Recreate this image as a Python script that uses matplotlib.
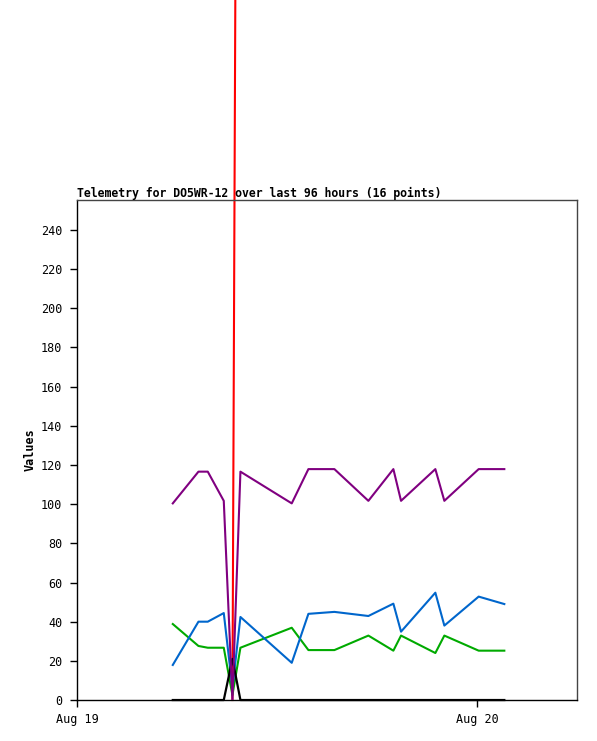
import matplotlib
matplotlib.use('Agg')
import matplotlib.pyplot as plt
import matplotlib.dates as mdates
import numpy as np
import datetime

nan = float('nan')

# sample times, hours after Aug 19 00:00
hours = [5.72, 7.26, 7.82, 8.78, 9.30, 9.78, 12.86, 13.86,
         15.42, 17.46, 18.96, 19.42, 21.48, 22.02, 24.08, 25.62]

red_vals = [nan, nan, nan, nan, 0, 990, 995, 998,
            1001, 1004, 1006, 1008, 1010, 1012, 1015, 1018]
green_vals = [38.8, 27.6, 26.7, 26.7, 2.5, 26.7, 36.9, 25.5,
              25.5, 32.9, 25.2, 32.9, 24.0, 32.9, 25.2, 25.2]
blue_vals = [17.9, 40.0, 40.0, 44.4, 6.0, 42.4, 19.0, 44.0,
             45.0, 42.9, 49.2, 34.9, 54.8, 38.0, 52.8, 49.0]
black_vals = [0, 0, 0, 0, 21, 0, 0, 0,
              0, 0, 0, 0, 0, 0, 0, 0]
purple_vals = [100.4, 116.6, 116.6, 101.7, 0, 116.6, 100.4, 117.9,
               117.9, 101.7, 117.9, 101.7, 117.9, 101.7, 117.9, 117.9]

start = datetime.datetime(2024, 8, 19)
times = [start + datetime.timedelta(hours=h) for h in hours]

fig = plt.figure(figsize=(5.97, 7.41), dpi=100)
ax = fig.add_axes([0.1298, 0.0553, 0.8372, 0.6748])

mono = 'DejaVu Sans Mono'

ax.plot(times, red_vals, color='#ff0000', lw=1.5, clip_on=False, zorder=2)
ax.plot(times, green_vals, color='#00aa00', lw=1.5, zorder=3)
ax.plot(times, blue_vals, color='#0066cc', lw=1.5, zorder=4)
ax.plot(times, black_vals, color='#000000', lw=1.6, clip_on=False, zorder=5)
ax.plot(times, purple_vals, color='#800080', lw=1.5, zorder=6)

ax.set_xlim(start, start + datetime.timedelta(hours=30))
ax.set_ylim(0, 255.3)

ax.xaxis.set_major_locator(mdates.DayLocator())
ax.xaxis.set_major_formatter(mdates.DateFormatter('%b %d'))
ax.set_yticks(np.arange(0, 241, 20))

for side in ['left', 'bottom']:
    ax.spines[side].set_color('#000000')
    ax.spines[side].set_linewidth(1.0)
for side in ['top', 'right']:
    ax.spines[side].set_color('#444444')
    ax.spines[side].set_linewidth(1.0)

ax.tick_params(axis='y', direction='out', length=5, width=1, pad=6, labelsize=8.5)
ax.tick_params(axis='x', direction='out', length=5, width=1, pad=4, labelsize=8.5)
for lbl in ax.get_xticklabels() + ax.get_yticklabels():
    lbl.set_family(mono)

ax.set_ylabel('Values', family=mono, fontweight='bold', fontsize=8.5, labelpad=3)
ax.set_title('Telemetry for DO5WR-12 over last 96 hours (16 points)',
             family=mono, fontweight='bold', fontsize=8.3, loc='left', pad=2)

fig.savefig('out.png', dpi=100)
plt.close(fig)
